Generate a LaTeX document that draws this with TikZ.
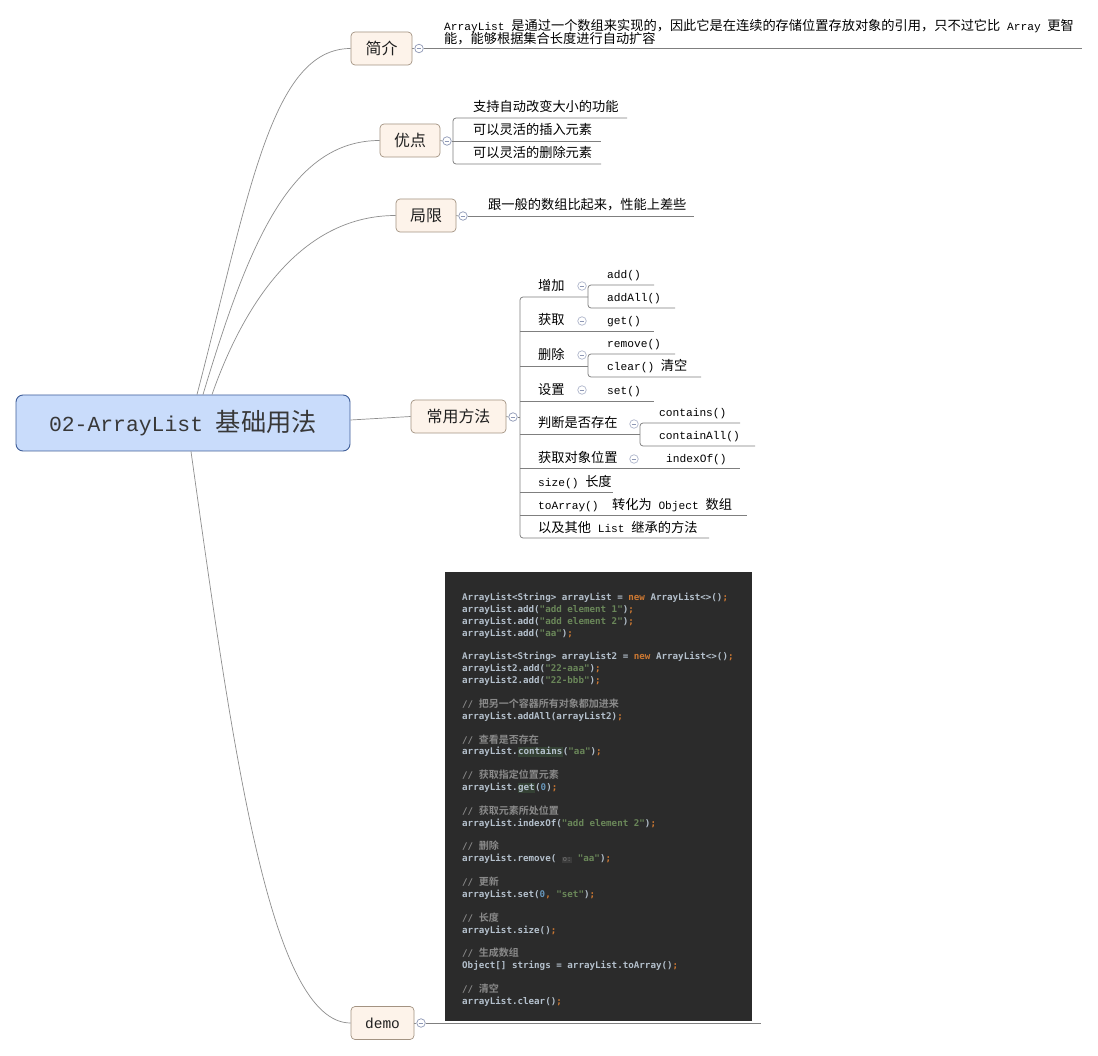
\documentclass[tikz,border=0pt]{standalone}
\usepackage{fontspec}
\setmainfont{Liberation Mono}
\newfontfamily\cjk[Scale=1.18]{Noto Sans CJK SC}
\newfontfamily\cjkc[BoldFont={* Bold}]{Noto Sans CJK SC}
\newfontfamily\codef{DejaVu Sans Mono}
\newcommand\C[1]{{\cjk #1}}
\definecolor{rootfill}{HTML}{C9DCFB}
\definecolor{rootdraw}{HTML}{3F5E98}
\definecolor{brfill}{HTML}{FDF3EA}
\definecolor{brdraw}{HTML}{A39382}
\definecolor{connc}{HTML}{8E8E8E}
\definecolor{ulc}{HTML}{7F7F7F}
\definecolor{btnc}{HTML}{8D97B5}
\definecolor{codebg}{HTML}{2B2B2B}
\definecolor{cid}{HTML}{B4C0CC}
\definecolor{ckw}{HTML}{CC7832}
\definecolor{cstr}{HTML}{6A8759}
\definecolor{cnum}{HTML}{6897BB}
\definecolor{ccom}{HTML}{8A8A8A}
\definecolor{chl}{HTML}{344134}
\definecolor{hintbg}{HTML}{3B3B3B}
\definecolor{hintfg}{HTML}{787878}
\newcommand\Kw[1]{\textcolor{ckw}{#1}}
\newcommand\Sv[1]{\textcolor{cstr}{#1}}
\newcommand\Nv[1]{\textcolor{cnum}{#1}}
\newcommand\Cm[1]{\textcolor{ccom}{// {\cjkc\fontsize{10}{11.88}\selectfont #1}}}
\newcommand\HLt[1]{{\fboxsep=0.5pt\colorbox{chl}{\vphantom{Ay}#1}}}
\newcommand\Hint[1]{{\fboxsep=1pt\colorbox{hintbg}{\fontsize{7}{8}\selectfont\mdseries\textcolor{hintfg}{#1}}}}
\begin{document}
\begin{tikzpicture}[x=1pt,y=-1pt,
  root/.style={draw=rootdraw, fill=rootfill, rounded corners=7pt, line width=0.9pt,
    minimum width=334pt, minimum height=56pt, inner sep=0pt, text=black!78,
    font=\fontsize{21.4}{24}\selectfont},
  branch/.style={draw=brdraw, fill=brfill, rounded corners=4pt, line width=0.7pt,
    minimum height=33pt, inner sep=0pt, text=black!88, font=\fontsize{13.5}{16}\selectfont},
  btn/.style={circle, draw=btnc, fill=white, minimum size=8.5pt, inner sep=0pt, line width=0.7pt,
    path picture={\draw[btnc, line width=0.7pt] ([xshift=-2.4pt]path picture bounding box.center) -- ([xshift=2.4pt]path picture bounding box.center);}},
  leaf/.style={anchor=base west, inner sep=0pt, text=black, font=\fontsize{11.2}{13}\selectfont},
  link/.style={draw=connc, line width=0.7pt},
  bar/.style={draw=ulc, line width=0.75pt, rounded corners=3pt}]
\useasboundingbox (0,0) rectangle (1098,1056);
\fill[white] (0,0) rectangle (1098,1056);

% root and branches
\node[root] (root) at (183,423) {02-ArrayList \C{基础用法}};
\node[branch, minimum width=61pt] (intro) at (381.5,48.5) {\C{简介}};
\node[branch, minimum width=60pt] (adv) at (410,140.5) {\C{优点}};
\node[branch, minimum width=60pt] (lim) at (426,215.5) {\C{局限}};
\node[branch, minimum width=95pt] (meth) at (458.5,416.5) {\C{常用方法}};
\node[branch, minimum width=63pt, font=\fontsize{14.5}{16}\selectfont] (demo) at (382.5,1023) {demo};

\draw[link] ([xshift=14pt]root.north) .. controls (249,195) and (271,48.5) .. (intro.west);
\draw[link] ([xshift=20pt]root.north) .. controls (248,245) and (290,140.5) .. (adv.west);
\draw[link] ([xshift=29pt]root.north) .. controls (247,295) and (306,215.5) .. (lim.west);
\draw[link] ([yshift=3pt]root.east) -- (meth.west);
\draw[link] ([xshift=8pt]root.south) .. controls (233,751) and (270,1023) .. (demo.west);

% collapse buttons
\node[btn] (b1) at (419,48.5) {};
\node[btn] (b2) at (447,141) {};
\node[btn] (b3) at (463,216) {};
\node[btn] (b4) at (513,417) {};
\node[btn] (b5) at (421,1023) {};
\draw[link] (intro.east) -- (b1.west);
\draw[link] (adv.east) -- (b2.west);
\draw[link] (lim.east) -- (b3.west);
\draw[link] (meth.east) -- (b4.west);
\draw[link] (demo.east) -- (b5.west);

% intro
\draw[bar] (b1.east) -- (1082,48.5);
\node[leaf] (intro1) at (444,31) {ArrayList \C{是通过一个数组来实现的，因此它是在连续的存储位置存放对象的引用，只不过它比} Array \C{更智}};
\node[leaf] (intro2) at (444,43.5) {\C{能，能够根据集合长度进行自动扩容}};

% advantages
\draw[bar] (627,118) -- (453,118) -- (453,164) -- (601,164);
\draw[bar] (b2.east) -- (601,141);
\node[leaf] (adv1) at (473,112) {\C{支持自动改变大小的功能}};
\node[leaf] (adv2) at (473,135) {\C{可以灵活的插入元素}};
\node[leaf] (adv3) at (473,158) {\C{可以灵活的删除元素}};

% limitation
\draw[bar] (b3.east) -- (694,216);
\node[leaf] (lim1) at (488,210) {\C{跟一般的数组比起来，性能上差些}};

% methods
\draw[bar] (b4.east) -- (520,417);
\draw[bar] (588,297) -- (520,297) -- (520,538) -- (709,538);
\draw[bar] (520,331) -- (654,331);
\draw[bar] (520,366) -- (588,366);
\draw[bar] (520,401) -- (654,401);
\draw[bar] (520,434) -- (640,434);
\draw[bar] (520,468) -- (740,468);
\draw[bar] (520,492) -- (613,492);
\draw[bar] (520,515) -- (747,515);
\draw[bar] (654,285) -- (588,285) -- (588,308) -- (675,308);
\draw[bar] (675,354) -- (588,354) -- (588,377) -- (701,377);
\draw[bar] (740,423) -- (640,423) -- (640,446) -- (755,446);

\node[leaf] (m1) at (538,291) {\C{增加}};
\node[leaf] (m1a) at (607,279) {add()};
\node[leaf] (m1b) at (607,302) {addAll()};
\node[leaf] (m2) at (538,325) {\C{获取}};
\node[leaf] (m2a) at (607,325) {get()};
\node[leaf] (m3) at (538,360) {\C{删除}};
\node[leaf] (m3a) at (607,348) {remove()};
\node[leaf] (m3b) at (607,371) {clear() \C{清空}};
\node[leaf] (m4) at (538,395) {\C{设置}};
\node[leaf] (m4a) at (607,395) {set()};
\node[leaf] (m5) at (538,428) {\C{判断是否存在}};
\node[leaf] (m5a) at (659,417) {contains()};
\node[leaf] (m5b) at (659,440) {containAll()};
\node[leaf] (m6) at (538,462) {\C{获取对象位置}};
\node[leaf] (m6a) at (666,462) {indexOf()};
\node[leaf] (m7) at (538,486) {size() \C{长度}};
\node[leaf] (m8) at (538,509) {toArray()~ \C{转化为} Object \C{数组}};
\node[leaf] (m9) at (538,532) {\C{以及其他} List \C{继承的方法}};

\node[btn, draw=btnc!70] (s1) at (582,286) {};
\node[btn, draw=btnc!70] (s2) at (582,321) {};
\node[btn, draw=btnc!70] (s3) at (582,355) {};
\node[btn, draw=btnc!70] (s4) at (582,390) {};
\node[btn, draw=btnc!70] (s5) at (634,424) {};
\node[btn, draw=btnc!70] (s6) at (634,459) {};

% demo
\draw[bar] (b5.east) -- (761,1023);
\node[fill=codebg, minimum width=307pt, minimum height=449pt, anchor=north west, inner sep=0pt] (codeimg) at (445,572) {};
\node[anchor=base west, inner sep=0pt, text=cid, font=\codef\bfseries\fontsize{9.2}{11.88}\selectfont] (code) at (462,600.5) {\vtop{\baselineskip=11.88pt\lineskiplimit=-30pt\lineskip=0pt
\hbox{ArrayList<String> arrayList = \Kw{new} ArrayList<>()\Kw{;}}
\hbox{arrayList.add(\Sv{"add element 1"})\Kw{;}}
\hbox{arrayList.add(\Sv{"add element 2"})\Kw{;}}
\hbox{arrayList.add(\Sv{"aa"})\Kw{;}}
\hbox{}
\hbox{ArrayList<String> arrayList2 = \Kw{new} ArrayList<>()\Kw{;}}
\hbox{arrayList2.add(\Sv{"22-aaa"})\Kw{;}}
\hbox{arrayList2.add(\Sv{"22-bbb"})\Kw{;}}
\hbox{}
\hbox{\Cm{把另一个容器所有对象都加进来}}
\hbox{arrayList.addAll(arrayList2)\Kw{;}}
\hbox{}
\hbox{\Cm{查看是否存在}}
\hbox{arrayList.\HLt{contains}(\Sv{"aa"})\Kw{;}}
\hbox{}
\hbox{\Cm{获取指定位置元素}}
\hbox{arrayList.\HLt{get}(\Nv{0})\Kw{;}}
\hbox{}
\hbox{\Cm{获取元素所处位置}}
\hbox{arrayList.indexOf(\Sv{"add element 2"})\Kw{;}}
\hbox{}
\hbox{\Cm{删除}}
\hbox{arrayList.remove( \Hint{o:} \Sv{"aa"})\Kw{;}}
\hbox{}
\hbox{\Cm{更新}}
\hbox{arrayList.set(\Nv{0}\Kw{,} \Sv{"set"})\Kw{;}}
\hbox{}
\hbox{\Cm{长度}}
\hbox{arrayList.size()\Kw{;}}
\hbox{}
\hbox{\Cm{生成数组}}
\hbox{Object[] strings = arrayList.toArray()\Kw{;}}
\hbox{}
\hbox{\Cm{清空}}
\hbox{arrayList.clear()\Kw{;}}
}};
\end{tikzpicture}
\end{document}
